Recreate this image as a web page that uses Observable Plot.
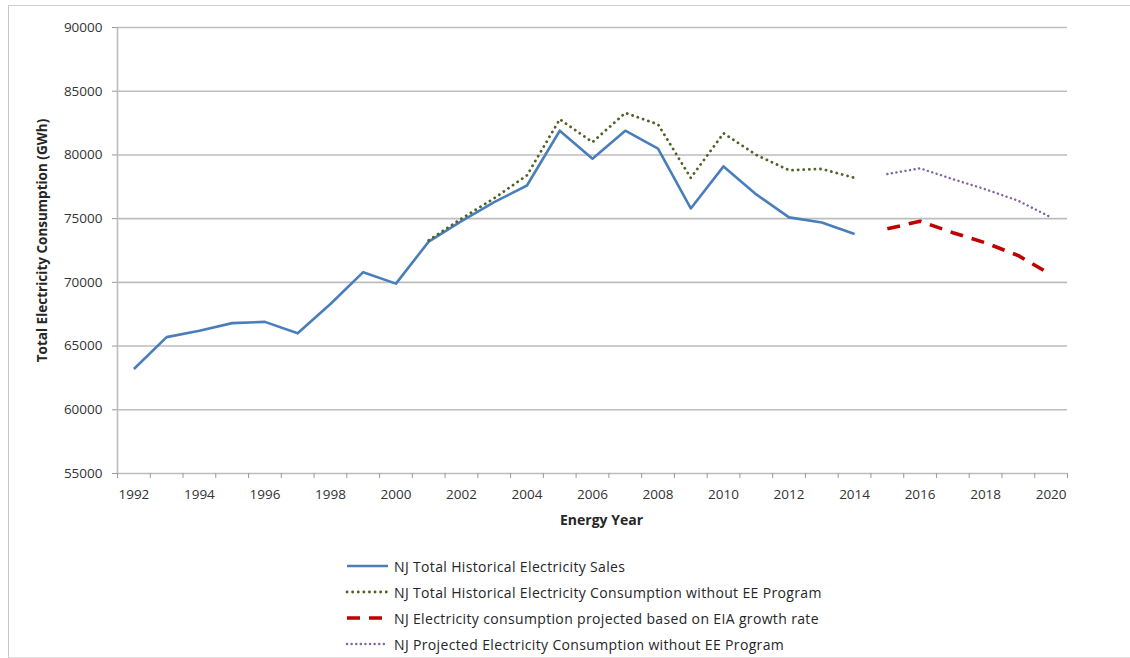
<!DOCTYPE html>
<html>
<head>
<meta charset="utf-8">
<script src="https://cdn.jsdelivr.net/npm/d3@7"></script>
<script src="https://cdn.jsdelivr.net/npm/@observablehq/plot@0.6"></script>
<style>
  html, body { margin: 0; padding: 0; background: #fff; }
  #wrap { position: relative; width: 1130px; height: 658px; overflow: hidden; font-family: "Open Sans", Lato, sans-serif; }
  #frame { position: absolute; left: 8px; top: 5px; width: 1130px; height: 651px; border-left: 1px solid #c8c8c8; border-top: 1px solid #d0d0d0; border-bottom: 1px solid #e0e0e0; }
  #chart { position: absolute; left: 0; top: 0; }
  #legend { position: absolute; left: 345px; top: 553px; font-size: 14px; letter-spacing: 0.35px; color: #262626; }
  .row { height: 26px; display: flex; align-items: center; white-space: nowrap; }
  .row svg { margin-right: 3px; }
</style>
</head>
<body>
<div id="wrap">
  <div id="frame"></div>
  <div id="chart"></div>
  <div id="legend"></div>
</div>
<script>
// ---- data ----
const histYears = [1992,1993,1994,1995,1996,1997,1998,1999,2000,2001,2002,2003,2004,2005,2006,2007,2008,2009,2010,2011,2012,2013,2014];
const sales = [63200,65700,66200,66800,66900,66000,68300,70800,69900,73200,74800,76300,77600,81900,79700,81900,80500,75800,79100,76900,75100,74700,73800];
const noEEYears = [2001,2002,2003,2004,2005,2006,2007,2008,2009,2010,2011,2012,2013,2014];
const noEE = [73300,75000,76600,78400,82800,81000,83300,82400,78200,81700,80000,78800,78900,78200];
const projYears = [2015,2016,2017,2018,2019,2020];
const eiaProj = [74200,74800,73900,73100,72100,70600];
const noEEProj = [78500,78950,78100,77300,76400,75100];
const allYears = d3.range(1992, 2021);
const xTickLabels = [1992,1994,1996,1998,2000,2002,2004,2006,2008,2010,2012,2014,2016,2018,2020];
const yTicks = [55000,60000,65000,70000,75000,80000,85000,90000];
const seriesNames = [
  "NJ Total Historical Electricity Sales",
  "NJ Total Historical Electricity Consumption without EE Program",
  "NJ Electricity consumption projected based on EIA growth rate",
  "NJ Projected Electricity Consumption without EE Program"
];

const toRows = (xs, ys) => xs.map((x, i) => ({year: x, value: ys[i]}));
const boundaries = [...allYears.map(y => y - 0.5), 2020.5];

const styles = [
  {stroke: "#4a7ebb", strokeWidth: 2.6, dash: null, cap: "butt"},
  {stroke: "#4f6228", strokeWidth: 2.8, dash: "0.1 5.5", cap: "round"},
  {stroke: "#c00000", strokeWidth: 3.6, dash: "13 9", cap: "butt"},
  {stroke: "#8064a2", strokeWidth: 2.4, dash: "0.1 4.5", cap: "round"}
];
const data = [toRows(histYears, sales), toRows(noEEYears, noEE), toRows(projYears, eiaProj), toRows(projYears, noEEProj)];

const chart = Plot.plot({
  width: 1130,
  height: 540,
  marginLeft: 117,
  marginRight: 63,
  marginTop: 27,
  marginBottom: 67,
  style: {fontFamily: "'Open Sans', Lato, sans-serif", fontSize: "13px", color: "#333", background: "transparent"},
  x: {domain: [1991.5, 2020.5]},
  y: {domain: [55000, 90000]},
  marks: [
    Plot.ruleY(yTicks, {y: d => d, stroke: "#bdbdbd", strokeWidth: 1.6}),
    Plot.ruleX([1991.5], {stroke: "#bdbdbd", strokeWidth: 1.6}),
    Plot.axisY({ticks: yTicks, tickSize: 5, tickPadding: 10, tickFormat: d3.format("d"), stroke: "#9a9a9a", fontSize: 13.5, label: null}),
    Plot.axisX({ticks: boundaries, tickSize: 5, tickFormat: () => "", stroke: "#9a9a9a", label: null}),
    Plot.axisX({ticks: xTickLabels, tickSize: 0, tickPadding: 16, tickFormat: d3.format("d"), fontSize: 13.5, label: null}),
    Plot.text(["Energy Year"], {frameAnchor: "bottom", dx: 9, dy: 51, fontWeight: "bold", fontSize: 14, fill: "#262626", style: {wordSpacing: "4px"}}),
    Plot.text(["Total Electricity Consumption (GWh)"], {frameAnchor: "left", textAnchor: "middle", dx: -75, dy: -10, rotate: -90, fontWeight: "bold", fontSize: 13.5, fill: "#262626"}),
    ...data.map((d, i) => Plot.line(d, {x: "year", y: "value", stroke: styles[i].stroke, strokeWidth: styles[i].strokeWidth, strokeDasharray: styles[i].dash, strokeLinecap: styles[i].cap, strokeLinejoin: "round"}))
  ]
});
document.getElementById("chart").appendChild(chart);

const legend = document.getElementById("legend");
seriesNames.forEach((name, i) => {
  const s = styles[i];
  const row = document.createElement("div");
  row.className = "row";
  row.innerHTML = `<svg width="46" height="10"><line x1="2" x2="43" y1="5" y2="5" stroke="${s.stroke}" stroke-width="${s.strokeWidth}" ${s.dash ? `stroke-dasharray="${s.dash}"` : ""} stroke-linecap="${s.cap}"/></svg><span>${name}</span>`;
  legend.appendChild(row);
});
</script>
</body>
</html>
